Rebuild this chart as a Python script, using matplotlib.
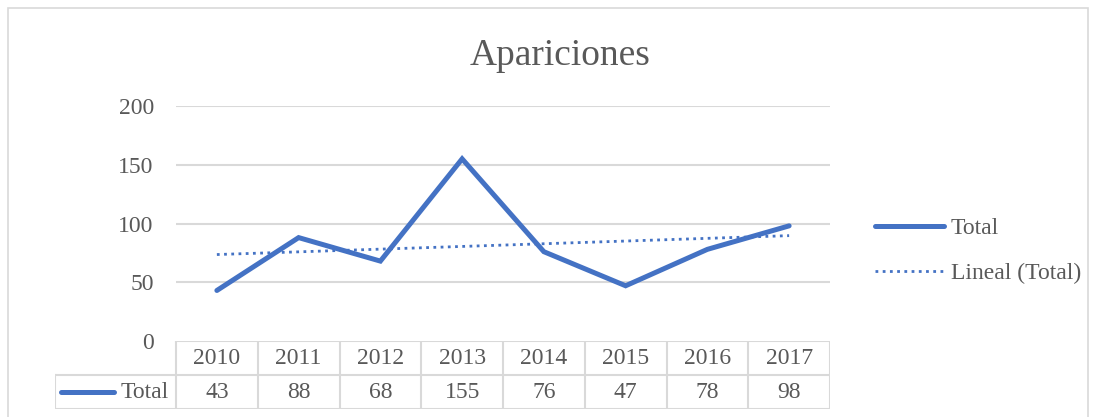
import numpy as np
import matplotlib.pyplot as plt
from matplotlib.lines import Line2D
from matplotlib.patches import Rectangle

years = ["2010", "2011", "2012", "2013", "2014", "2015", "2016", "2017"]
total = [43, 88, 68, 155, 76, 47, 78, 98]
yticks = [0, 50, 100, 150, 200]

blue = "#4472C4"
grey_txt = "#595959"
grid_c = "#D9D9D9"
fs = 17

plt.rcParams["font.family"] = ["Liberation Serif", "DejaVu Serif"]

W, H = 1096, 417
fig = plt.figure(figsize=(W / 100, H / 100), dpi=100)

def fx(px):
    return px / W

def fy(py):
    return 1 - py / H

# outer chart border
fig.patches.append(Rectangle((fx(8), fy(440)), fx(1088) - fx(8), fy(8) - fy(440),
                             transform=fig.transFigure, fill=False,
                             edgecolor=grid_c, lw=1.2))

# plot area
x0, x1, ytop, ybot = 176, 830, 106, 341
ax = fig.add_axes([fx(x0), fy(ybot), fx(x1) - fx(x0), fy(ytop) - fy(ybot)])
x = np.arange(len(years))
ax.plot(x, total, color=blue, lw=3.6, solid_capstyle="round", solid_joinstyle="miter",
        label="Total")
coef = np.polyfit(x, total, 1)
ax.plot(x, np.polyval(coef, x), color=blue, lw=2, linestyle=(0, (1, 1.6)),
        label="Lineal (Total)")
ax.set_xlim(-0.5, len(years) - 0.5)
ax.set_ylim(0, 200)
ax.set_yticks(yticks)
ax.set_xticks([])
ax.tick_params(axis="y", length=0, pad=16, labelsize=fs, labelcolor=grey_txt)
for s in ax.spines.values():
    s.set_visible(False)
for t in yticks[1:]:
    ax.axhline(t, color=grid_c, lw=1.5, zorder=0)

# data table
left = 55
unit = (x1 - x0) / len(years)
tax = fig.add_axes([fx(left), fy(409), fx(x1) - fx(left), fy(341) - fy(409)])
lx = -0.5 - (x0 - left) / unit
tax.set_xlim(lx, len(years) - 0.5)
tax.set_ylim(0, 2)
tax.axis("off")
lk = dict(color=grid_c, lw=1.5)
tax.plot([-0.5, len(years) - 0.5], [2, 2], **lk)
tax.plot([lx, len(years) - 0.5], [1, 1], **lk)
tax.plot([lx, len(years) - 0.5], [0, 0], **lk)
for k in range(len(years) + 1):
    tax.plot([k - 0.5, k - 0.5], [0, 2], **lk)
tax.plot([lx, lx], [0, 1], **lk)
for i, (yr, v) in enumerate(zip(years, total)):
    tax.text(i, 1.5, yr, ha="center", va="center", fontsize=fs, color=grey_txt)
    tax.text(i, 0.5, str(v), ha="center", va="center", fontsize=fs, color=grey_txt)
tax.plot([lx + 0.07, lx + 0.72], [0.5, 0.5], color=blue, lw=3.6, solid_capstyle="round")
tax.text(-0.5 - 0.09, 0.5, "Total", ha="right", va="center", fontsize=fs, color=grey_txt)

# title
fig.text(fx(560), fy(56), "Apariciones", ha="center", va="center",
         fontsize=27, color=grey_txt)

# legend
handles = [Line2D([], [], color=blue, lw=3.6, solid_capstyle="round"),
           Line2D([], [], color=blue, lw=2, linestyle=(0, (1, 1.6)))]
fig.legend(handles, ["Total", "Lineal (Total)"], loc="center left",
           bbox_to_anchor=(fx(854), fy(251)), frameon=False, fontsize=fs,
           labelcolor=grey_txt, handlelength=2.9, handletextpad=0.3,
           labelspacing=1.0)

fig.savefig("out.png", dpi=100)
